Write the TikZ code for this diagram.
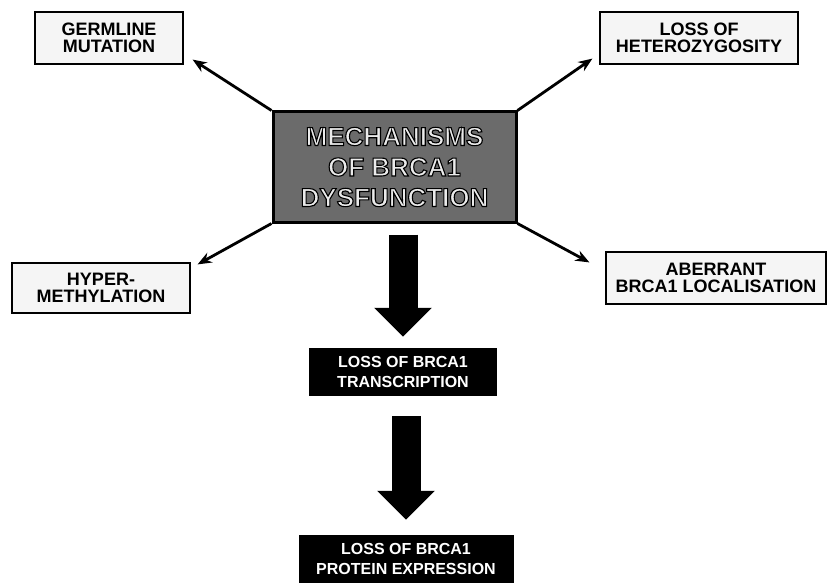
\documentclass[tikz,border=0pt]{standalone}
\usepackage{fontspec}
\setmainfont{Liberation Sans}
\usetikzlibrary{arrows.meta,calc}

% light glyphs stroked with a dark outline (text render mode 2)
\newcommand{\outlinedtext}[1]{%
  \special{pdf:literal direct 2 Tr 1.1 w 0 0 0 RG}#1\special{pdf:literal direct 0 Tr}}

\tikzset{
  causebox/.style={draw=black, line width=1.2pt, fill=black!4, align=center,
    inner sep=0pt, font=\fontsize{18}{17.5}\selectfont\bfseries},
  centerbox/.style={draw=black, line width=3pt, fill=black!58, align=center,
    inner sep=0pt, text=white!92!black,
    font=\fontsize{26}{30.5}\selectfont\bfseries},
  resultbox/.style={fill=black, text=white, align=center, inner sep=0pt,
    font=\fontsize{16}{19.5}\selectfont\bfseries},
  thinarrow/.style={line width=2.8pt, -{Stealth[length=14pt,width=11pt]}},
  bigarrow/.style={line width=29pt, -{Triangle[length=29pt,width=56pt]}}
}

\begin{document}
\begin{tikzpicture}[x=1pt,y=-1pt]
\useasboundingbox (0,0) rectangle (827,583);

% central node and its four causes
\node[centerbox, minimum width=243pt, minimum height=110pt] (mech) at (394.5,167)
  {\outlinedtext{MECHANISMS}\\\outlinedtext{OF BRCA1}\\\outlinedtext{DYSFUNCTION}};

\node[causebox, minimum width=148pt, minimum height=52pt] (germ) at (109,38)
  {GERMLINE\\MUTATION};
\node[causebox, minimum width=198pt, minimum height=52pt] (loh) at (699,38)
  {LOSS OF\\HETEROZYGOSITY};
\node[causebox, minimum width=178pt, minimum height=50pt] (hyper) at (101,288)
  {HYPER-\\METHYLATION};
\node[causebox, minimum width=220pt, minimum height=52pt] (aber) at (716,278)
  {ABERRANT\\BRCA1 LOCALISATION};

% consequences
\node[resultbox, minimum width=188pt, minimum height=48pt] (trans) at (403,372)
  {LOSS OF BRCA1\\TRANSCRIPTION};
\node[resultbox, minimum width=215pt, minimum height=48pt] (prot) at (406,559)
  {LOSS OF BRCA1\\PROTEIN EXPRESSION};

% arrow tips near the cause boxes
\coordinate (germtip) at ($(germ.south east)+(9,-5)$);
\coordinate (lohtip) at ($(loh.south west)+(-7,-6)$);
\coordinate (hypertip) at ($(hyper.north east)+(7,2)$);
\coordinate (abertip) at ($(aber.north west)+(-16,11)$);

\draw[thinarrow] (mech.north west) -- (germtip);
\draw[thinarrow] (mech.north east) -- (lohtip);
\draw[thinarrow] (mech.south west) -- (hypertip);
\draw[thinarrow] (mech.south east) -- (abertip);

% block arrows down the chain
\draw[bigarrow, shorten <=11pt, shorten >=11pt] (trans.north |- mech.south) -- (trans.north);
\draw[bigarrow, shorten <=20pt, shorten >=15pt] (prot.north |- trans.south) -- (prot.north);
\end{tikzpicture}
\end{document}
